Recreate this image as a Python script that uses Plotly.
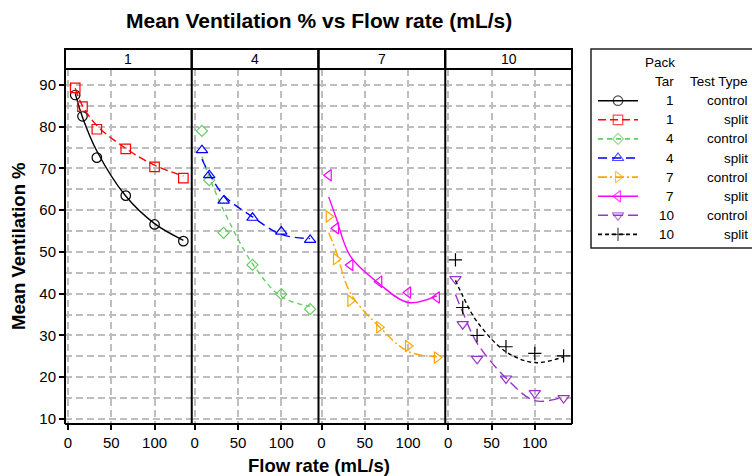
import plotly.graph_objects as go

# ---------------- data ----------------
flow = [8.3, 16.7, 33.3, 66.7, 100.0, 133.3]
panel_labels = ["1", "4", "7", "10"]
y_ticks = [10, 20, 30, 40, 50, 60, 70, 80, 90]
x_ticks = [0, 50, 100]

tar1_control = [87.6, 82.5, 72.6, 63.5, 56.6, 52.6]
tar1_split = [89.3, 84.8, 79.4, 74.7, 70.4, 67.7]
tar4_control = [79.0, 67.2, 54.6, 46.9, 39.9, 36.3]
tar4_split = [74.4, 68.4, 62.3, 58.2, 54.9, 52.9]
tar7_control = [58.5, 48.3, 38.3, 32.0, 27.5, 24.7]
tar7_split = [68.4, 55.7, 46.9, 42.9, 40.3, 39.1]
tar10_control = [43.5, 32.7, 24.4, 19.7, 16.2, 15.0]
tar10_split = [48.1, 36.7, 30.0, 27.3, 25.7, 25.1]

# smoothed curves as drawn in the reference
tar1_control_fit = [88.0, 82.3, 74.2, 63.4, 56.8, 52.8]
tar1_split_fit = [89.2, 85.0, 80.3, 74.8, 70.8, 68.2]
tar4_control_fit = [72.8, 68.0, 60.0, 47.2, 39.3, 37.0]
tar4_split_fit = [72.2, 68.8, 63.6, 58.4, 54.2, 53.2]
tar7_control_fit = [54.6, 50.3, 40.2, 32.1, 26.2, 24.9]
tar7_split_fit = [63.2, 58.3, 49.0, 42.4, 37.9, 39.5]
tar10_control_fit = [39.8, 35.6, 28.2, 19.8, 14.4, 15.3]
tar10_split_fit = [43.2, 39.5, 33.3, 26.1, 23.5, 24.9]

series_tar = ["1", "1", "4", "4", "7", "7", "10", "10"]
series_type = ["control", "split"] * 4
series_vals = [tar1_control, tar1_split, tar4_control, tar4_split,
               tar7_control, tar7_split, tar10_control, tar10_split]
series_fit = [tar1_control_fit, tar1_split_fit, tar4_control_fit, tar4_split_fit,
              tar7_control_fit, tar7_split_fit, tar10_control_fit, tar10_split_fit]

# ---------------- styles ----------------
colors = ["#000000", "#FF0000", "#66CC66", "#0000FF",
          "#FFA500", "#FF00FF", "#9933CC", "#000000"]
symbols = ["circle-open", "square-open", "diamond-open", "triangle-up-open",
           "triangle-right-open", "triangle-left-open", "triangle-down-open", "cross-thin-open"]
sizes = [9.5, 9.5, 8.5, 10, 10, 10, 10, 9.5]
dashes = ["solid", "8px,4px", "5px,4px", "9px,5px", "9px,3px,2px,3px", "solid", "10px,5px", "4px,3px"]

FONT = "Liberation Sans, Arial, Helvetica, sans-serif"
W, H = 752, 476
ML, MR, MT, MB = 65, 0, 49, 53
PW = W - ML - MR
PH = H - MT - MB


def px_x(p):
    return (p - ML) / PW


def px_y(p):
    return (H - MB - p) / PH


panel_left = [65 + 126.75 * i for i in range(4)]
panel_dom = [(px_x(l), px_x(l + 126.75)) for l in panel_left]
strip_bottom = px_y(69)

fig = go.Figure()

for i in range(8):
    p = panel_labels.index(series_tar[i])
    xa = "x" if p == 0 else f"x{p + 1}"
    ya = "y" if p == 0 else f"y{p + 1}"
    fig.add_trace(go.Scatter(
        x=flow, y=series_fit[i], mode="lines", xaxis=xa, yaxis=ya,
        line=dict(color=colors[i], width=1.4, dash=dashes[i], shape="spline", smoothing=1.0),
        showlegend=False, hoverinfo="skip"))
    fig.add_trace(go.Scatter(
        x=flow, y=series_vals[i], mode="markers", xaxis=xa, yaxis=ya,
        marker=dict(symbol=symbols[i], size=sizes[i], color=colors[i],
                    line=dict(color=colors[i], width=1.2)),
        showlegend=False))

grid = dict(showgrid=True, gridcolor="#BEBEBE", gridwidth=1.5, griddash="7px,4px")
tickfont = dict(family=FONT, size=15, color="black")

layout = dict(
    width=W, height=H, margin=dict(l=ML, r=MR, t=MT, b=MB),
    paper_bgcolor="white", plot_bgcolor="white", showlegend=False,
    font=dict(family=FONT, color="black"),
)

for p in range(4):
    xk = "xaxis" if p == 0 else f"xaxis{p + 1}"
    yk = "yaxis" if p == 0 else f"yaxis{p + 1}"
    layout[xk] = dict(domain=list(panel_dom[p]), range=[-3.5, 143], anchor="y" if p == 0 else f"y{p + 1}",
                      tickmode="array", tickvals=x_ticks, ticks="outside", ticklen=5,
                      tickwidth=1.5, tickcolor="black", showline=True, linecolor="black",
                      linewidth=2, mirror=True, zeroline=False, tickfont=tickfont, **grid)
    ydict = dict(domain=[0, strip_bottom], range=[9.04, 93.83], anchor="x" if p == 0 else f"x{p + 1}",
                 tickmode="array", tickvals=y_ticks, showline=False, zeroline=False,
                 tickfont=tickfont, **grid,
                 minor=dict(dtick=5, tick0=0, showgrid=True, gridcolor="#BEBEBE",
                            gridwidth=1.5, griddash="7px,4px", ticklen=0))
    if p == 0:
        ydict.update(ticks="outside", ticklen=5, tickwidth=1.5, tickcolor="black")
    else:
        ydict.update(ticks="", showticklabels=False, matches="y")
    layout[yk] = ydict

# legend key axis (pixel-like coordinates within the legend box)
layout["xaxis5"] = dict(domain=[px_x(591), 1.0], range=[591, 752], visible=False,
                        anchor="y5", fixedrange=True)
layout["yaxis5"] = dict(domain=[px_y(248), 1.0], range=[248, 49], visible=False,
                        anchor="x5", fixedrange=True)

fig.update_layout(**layout)

shapes = []
annotations = []
for p in range(4):
    shapes.append(dict(type="rect", xref="paper", yref="paper",
                       x0=panel_dom[p][0], x1=panel_dom[p][1], y0=strip_bottom, y1=1.0,
                       line=dict(color="black", width=2), fillcolor="white", layer="above"))
    annotations.append(dict(xref="paper", yref="paper", x=(panel_dom[p][0] + panel_dom[p][1]) / 2,
                            y=(strip_bottom + 1.0) / 2, text=panel_labels[p], showarrow=False,
                            font=dict(family=FONT, size=14, color="black"),
                            xanchor="center", yanchor="middle"))
# vertical panel borders
for edge in [panel_dom[0][0]] + [d[1] for d in panel_dom]:
    shapes.append(dict(type="line", xref="paper", yref="paper", x0=edge, x1=edge,
                       y0=-1.0 / PH, y1=1.0, line=dict(color="black", width=2), layer="above"))

# legend box
shapes.append(dict(type="rect", xref="paper", yref="paper", x0=px_x(591), x1=1.05,
                   y0=px_y(248), y1=1.0, line=dict(color="#222222", width=1.5)))

annotations.append(dict(xref="paper", yref="paper", x=px_x(660), y=px_y(62), text="Pack",
                        showarrow=False, font=dict(family=FONT, size=13.5),
                        xanchor="center", yanchor="middle"))
annotations.append(dict(xref="paper", yref="paper", x=px_x(675.5), y=px_y(81.5), text="Tar",
                        showarrow=False, font=dict(family=FONT, size=13.5),
                        xanchor="right", yanchor="middle"))
annotations.append(dict(xref="paper", yref="paper", x=px_x(750), y=px_y(81.5), text="Test Type",
                        showarrow=False, font=dict(family=FONT, size=13.5),
                        xanchor="right", yanchor="middle"))

for i in range(8):
    ry = 100.7 + 19.1 * i
    fig.add_trace(go.Scatter(
        x=[598, 618, 638], y=[ry, ry, ry], xaxis="x5", yaxis="y5", mode="lines+markers",
        line=dict(color=colors[i], width=1.6, dash=dashes[i]),
        marker=dict(symbol=symbols[i], size=[0, sizes[i], 0], color=colors[i],
                    line=dict(color=colors[i], width=1.2)),
        showlegend=False, hoverinfo="skip"))
    annotations.append(dict(xref="paper", yref="paper", x=px_x(675.5), y=px_y(ry), text=series_tar[i],
                            showarrow=False, font=dict(family=FONT, size=13.5),
                            xanchor="right", yanchor="middle"))
    annotations.append(dict(xref="paper", yref="paper", x=px_x(750), y=px_y(ry), text=series_type[i],
                            showarrow=False, font=dict(family=FONT, size=13.5),
                            xanchor="right", yanchor="middle"))

# titles
annotations.append(dict(xref="paper", yref="paper", x=px_x(318.5), y=px_y(21),
                        text="<b>Mean Ventilation % vs Flow rate (mL/s)</b>", showarrow=False,
                        font=dict(family=FONT, size=21), xanchor="center", yanchor="middle"))
annotations.append(dict(xref="paper", yref="paper", x=px_x(318.5), y=px_y(465),
                        text="<b>Flow rate (mL/s)</b>", showarrow=False,
                        font=dict(family=FONT, size=18.5), xanchor="center", yanchor="middle"))
annotations.append(dict(xref="paper", yref="paper", x=px_x(18), y=px_y(246),
                        text="<b>Mean Ventilation %</b>", showarrow=False, textangle=-90,
                        font=dict(family=FONT, size=18.5), xanchor="center", yanchor="middle"))

fig.update_layout(shapes=shapes, annotations=annotations)
fig.write_html("out.html", config={"displayModeBar": False},
               post_script="document.body.style.margin='0';document.body.style.overflow='hidden';")
